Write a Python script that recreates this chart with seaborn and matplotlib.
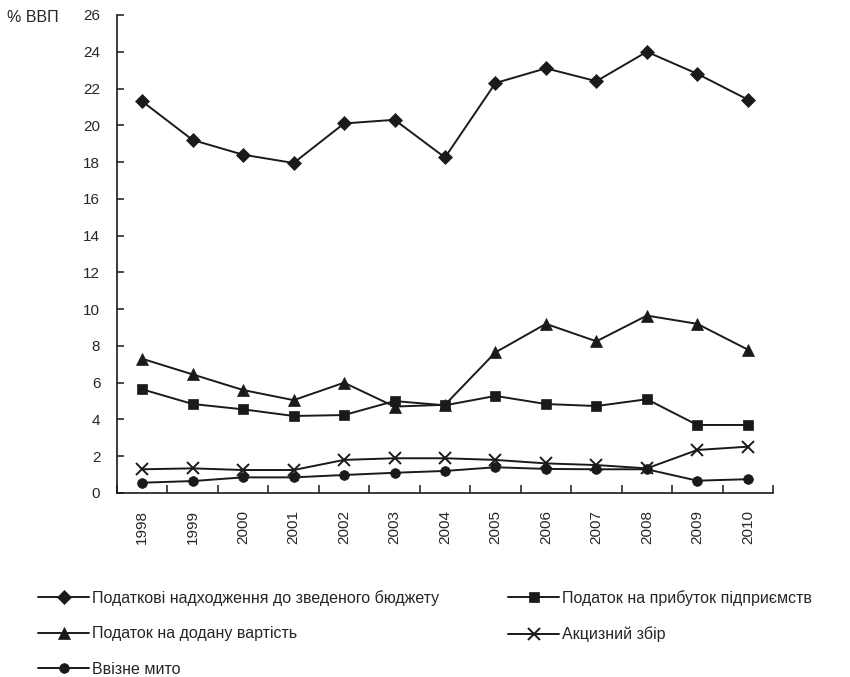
import matplotlib
matplotlib.use("Agg")
import matplotlib.pyplot as plt
import seaborn as sns
import pandas as pd
import numpy as np
from matplotlib.lines import Line2D

years = [1998, 1999, 2000, 2001, 2002, 2003, 2004, 2005, 2006, 2007, 2008, 2009, 2010]
tax_revenue = [21.3, 19.2, 18.4, 17.95, 20.1, 20.3, 18.25, 22.3, 23.1, 22.4, 24.0, 22.8, 21.4]
profit_tax = [5.64, 4.84, 4.55, 4.19, 4.24, 5.0, 4.77, 5.28, 4.84, 4.73, 5.1, 3.7, 3.7]
vat = [7.3, 6.45, 5.6, 5.05, 6.0, 4.7, 4.8, 7.65, 9.2, 8.25, 9.65, 9.2, 7.8]
excise = [1.29, 1.34, 1.25, 1.25, 1.8, 1.89, 1.89, 1.8, 1.61, 1.52, 1.34, 2.34, 2.52]
import_duty = [0.56, 0.65, 0.85, 0.85, 0.98, 1.1, 1.2, 1.4, 1.31, 1.29, 1.29, 0.67, 0.75]

names = ["Податкові надходження до зведеного бюджету",
         "Податок на прибуток підприємств",
         "Податок на додану вартість",
         "Акцизний збір",
         "Ввізне мито"]
series = [tax_revenue, profit_tax, vat, excise, import_duty]
markers = ["D", "s", "^", "x", "o"]
msizes = [7.5, 7, 8.5, 9, 7]
INK = "#1a1a1a"

sns.set_style("ticks")
plt.rcParams['font.family'] = ['Liberation Sans', 'DejaVu Sans']

fig = plt.figure(figsize=(8.5, 6.77), dpi=100)
ax = fig.add_axes([117/850, 1-493/677, (773-117)/850, (493-15)/677])

for name, vals, mk, ms in zip(names, series, markers, msizes):
    df = pd.DataFrame({"year": years, "value": vals})
    sns.lineplot(data=df, x="year", y="value", ax=ax, color=INK,
                 marker=mk, markersize=ms, linewidth=1.4,
                 markeredgecolor=INK, markerfacecolor=INK,
                 markeredgewidth=1.4 if mk == "x" else 0.5, label=name)

ax.set_xlim(1997.5, 2010.5)
ax.set_ylim(0, 26)
ax.set_yticks(np.arange(0, 27, 2))
ax.set_xticks(years)
ax.set_xticklabels([str(y) for y in years], rotation=90, fontsize=11)
ax.set_xticks(np.arange(1997.5, 2011, 1), minor=True)
ax.tick_params(axis='x', which='major', length=0, pad=12)
ax.tick_params(axis='x', which='minor', length=6, width=1.1, direction='in', color=INK)
ax.tick_params(axis='y', length=5, width=1.1, direction='in', labelsize=11, color=INK, pad=12)
ax.set_xlabel("")
ax.set_ylabel("")
for s in ['top', 'right']:
    ax.spines[s].set_visible(False)
for s in ['left', 'bottom']:
    ax.spines[s].set_color(INK)
    ax.spines[s].set_linewidth(1.2)

if ax.get_legend():
    ax.get_legend().remove()

fig.text(7/850, 1-18/677, "% ВВП", fontsize=11.5, va='center', ha='left')

handles = [Line2D([], [], color=INK, marker=mk, markersize=ms, linewidth=1.4,
                  markeredgewidth=1.4 if mk == "x" else 0.5) for mk, ms in zip(markers, msizes)]
leg_kw = dict(loc='upper left', frameon=False, fontsize=11.5, handlelength=3.2,
              handletextpad=0.18, labelspacing=1.28, borderaxespad=0, borderpad=0)
leg1 = fig.legend([handles[i] for i in [0, 2, 4]], [names[i] for i in [0, 2, 4]],
                  bbox_to_anchor=(38/850, 1-590/677), **leg_kw)
leg2 = fig.legend([handles[i] for i in [1, 3]], [names[i] for i in [1, 3]],
                  bbox_to_anchor=(508/850, 1-590/677), **leg_kw)

fig.savefig("out.png", dpi=100)
